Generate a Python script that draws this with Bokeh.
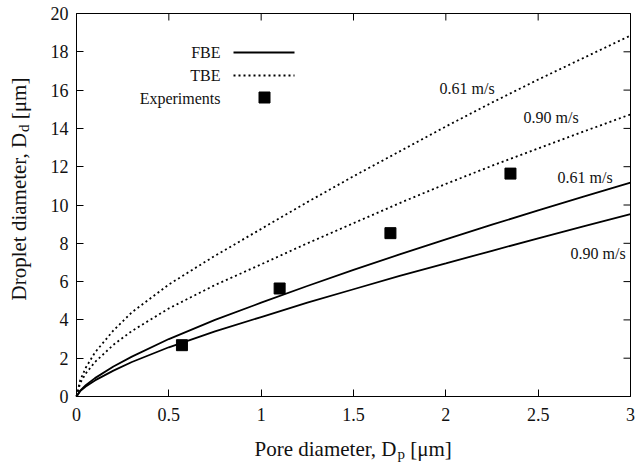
import math
from bokeh.plotting import figure
from bokeh.models import Range1d, FixedTicker, LinearAxis, Label, Arrow, BoxAnnotation
from bokeh.embed import file_html
from bokeh.resources import INLINE

# ---- data ----
pore_x = [0, 0.02, 0.05, 0.1, 0.2, 0.3, 0.5, 0.75, 1.0, 1.25, 1.5, 1.75, 2.0, 2.25, 2.5, 2.75, 3.0]
fbe_061 = [0, 0.31, 0.59, 0.96, 1.57, 2.08, 3.0, 4.0, 4.9, 5.77, 6.61, 7.42, 8.2, 8.97, 9.72, 10.45, 11.17]
fbe_090 = [0, 0.28, 0.52, 0.84, 1.35, 1.8, 2.57, 3.4, 4.15, 4.9, 5.6, 6.3, 6.95, 7.61, 8.26, 8.9, 9.52]
tbe_061 = [0, 0.85, 1.5, 2.3, 3.45, 4.4, 5.85, 7.35, 8.75, 10.15, 11.5, 12.8, 14.1, 15.35, 16.55, 17.7, 18.85]
tbe_090 = [0, 0.7, 1.2, 1.8, 2.7, 3.42, 4.6, 5.82, 6.9, 8.0, 9.05, 10.1, 11.1, 12.05, 12.95, 13.85, 14.73]
exp_x = [0.571, 1.10, 1.70, 2.35]
exp_y = [2.68, 5.64, 8.53, 11.64]

x_ticks = [0, 0.5, 1, 1.5, 2, 2.5, 3]
x_tick_labels = ["0", "0.5", "1", "1.5", "2", "2.5", "3"]
y_ticks = [0, 2, 4, 6, 8, 10, 12, 14, 16, 18, 20]
y_tick_labels = ["0", "2", "4", "6", "8", "10", "12", "14", "16", "18", "20"]

curve_labels = ["0.61 m/s", "0.90 m/s", "0.61 m/s", "0.90 m/s"]
legend_labels = ["FBE", "TBE", "Experiments"]

FONT = "'Liberation Serif', 'Times New Roman', 'DejaVu Serif', serif"
INK = "#111111"

# axis limits of the plotted box
X0, X1, Y0, Y1 = 0, 3, 0, 20
# canvas and box placement (pixels)
W, H = 638, 464
FL, FT, FW, FH = 76, 13, 554, 383
sx = FW / (X1 - X0)
sy = FH / (Y1 - Y0)

# the plotting frame spans the whole canvas so the axis titles can live in it;
# the axes themselves are Bokeh axes pinned at the box edges
p = figure(width=W, height=H,
           x_range=Range1d(X0 - FL / sx, X0 + (W - FL) / sx),
           y_range=Range1d(Y0 - (H - FT - FH) / sy, Y1 + FT / sy),
           x_axis_location=None, y_axis_location=None,
           output_backend="svg", toolbar_location=None, min_border=0)
p.background_fill_color = "white"
p.border_fill_color = "white"
p.outline_line_color = None
p.xgrid.visible = False
p.ygrid.visible = False

def style_axis(ax, ticks, labels, standoff):
    ax.ticker = FixedTicker(ticks=ticks)
    ax.major_label_overrides = {t: l for t, l in zip(ticks, labels)}
    ax.axis_line_color = None
    ax.major_tick_in = 7
    ax.major_tick_out = 0
    ax.major_tick_line_color = "black"
    ax.major_tick_line_width = 1
    ax.minor_tick_line_color = None
    ax.major_label_text_font = FONT
    ax.major_label_text_color = INK
    ax.major_label_text_font_size = "18px"
    ax.major_label_standoff = standoff

xaxis = LinearAxis(fixed_location=Y0)
yaxis = LinearAxis(fixed_location=X0)
style_axis(xaxis, x_ticks, x_tick_labels, 11)
style_axis(yaxis, y_ticks, y_tick_labels, 8)
p.add_layout(xaxis, "below")
p.add_layout(yaxis, "left")

# plot box
p.add_layout(BoxAnnotation(left=X0, right=X1, bottom=Y0, top=Y1, fill_alpha=0,
                           line_color="black", line_width=1, line_alpha=1))

# mirrored inward ticks on the top and right edges (gnuplot style)
tick_dy = 7 / sy
tick_dx = 7 / sx
p.segment(x0=x_ticks, y0=[Y1] * len(x_ticks), x1=x_ticks, y1=[Y1 - tick_dy] * len(x_ticks),
          line_color="black", line_width=1)
p.segment(x0=[X1] * len(y_ticks), y0=y_ticks, x1=[X1 - tick_dx] * len(y_ticks), y1=y_ticks,
          line_color="black", line_width=1)

# ---- curves ----
p.line(pore_x, tbe_061, line_color="black", line_width=1.8, line_dash="2 3")
p.line(pore_x, tbe_090, line_color="black", line_width=1.8, line_dash="2 3")
p.line(pore_x, fbe_061, line_color="black", line_width=1.8)
p.line(pore_x, fbe_090, line_color="black", line_width=1.8)
p.scatter(exp_x, exp_y, marker="square", size=11, fill_color="black", line_color="black")

# ---- pixel -> data helpers for text placement ----
def dx(px):
    return X0 + (px - FL) / sx

def dy(py):
    return Y0 + (FT + FH - py) / sy

# curve annotations
label_pos = [(439, 88), (523, 117), (557, 177), (570, 253)]
for txt, (lx, ly) in zip(curve_labels, label_pos):
    p.add_layout(Label(x=dx(lx), y=dy(ly), text=txt, text_font=FONT, text_font_size="16px",
                       text_align="left", text_baseline="middle", text_color=INK))

# legend (text on the left, key on the right, as in the reference)
legend_rows = [52, 75, 98]
for txt, ry in zip(legend_labels, legend_rows):
    p.add_layout(Label(x=dx(220), y=dy(ry), text=txt, text_font=FONT, text_font_size="16px",
                       text_align="right", text_baseline="middle", text_color=INK))
p.add_layout(Arrow(end=None, x_start=dx(233), y_start=dy(52), x_end=dx(294), y_end=dy(52),
                   line_color="black", line_width=1.8))
p.add_layout(Arrow(end=None, x_start=dx(233), y_start=dy(75), x_end=dx(294), y_end=dy(75),
                   line_color="black", line_width=1.8, line_dash="2 3"))
p.add_layout(BoxAnnotation(left=dx(258.5), right=dx(269.5), top=dy(91.5), bottom=dy(102.5),
                           fill_color="black", fill_alpha=1, line_color="black", line_alpha=1))

# ---- axis titles with subscripts ----
LBL = 21
SUB = 15
SPACE = 0.25 * LBL

def title_piece(px, py, text, size, angle=0.0):
    p.add_layout(Label(x=dx(px), y=dy(py), text=text,
                       text_font=FONT, text_font_size=f"{size}px", angle=angle,
                       text_align="left", text_baseline="alphabetic", text_color=INK))

# x title: "Pore diameter, D_p [μm]"
xt_left, xt_base = 254, 448
w1 = 6.804 * LBL
title_piece(xt_left, xt_base, "Pore diameter, D", LBL)
title_piece(xt_left + w1, xt_base + 5, "p", SUB)
title_piece(xt_left + w1 + 7.5 + SPACE, xt_base, "[μm]", LBL)

# y title: "Droplet diameter, D_d [μm]" (rotated, reading upward)
yt_base, yt_start = 18, 300
w2 = 8.026 * LBL
title_piece(yt_base, yt_start, "Droplet diameter, D", LBL, math.pi / 2)
title_piece(yt_base + 5, yt_start - w2, "d", SUB, math.pi / 2)
title_piece(yt_base, yt_start - w2 - 7.5 - SPACE, "[μm]", LBL, math.pi / 2)

open("out.html", "w").write(file_html(p, INLINE))
